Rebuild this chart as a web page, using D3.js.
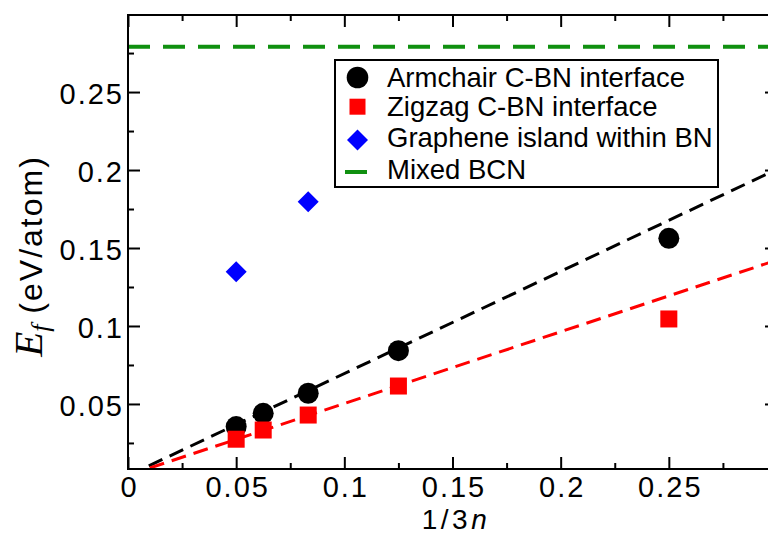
<!doctype html>
<html>
<head>
<meta charset="utf-8">
<style>
  body { margin: 0; background: #fff; }
  svg { display: block; }
  text { font-family: "Liberation Sans", Arial, sans-serif; fill: #000; }
  .tick text { font-size: 29px; letter-spacing: 2px; }
  .legend text { font-size: 27.5px; }
</style>
</head>
<body>
<svg width="768" height="535"></svg>
<script src="https://d3js.org/d3.v7.min.js"></script>
<script>
// data
var xSizes = [0.05, 0.0625, 0.0833, 0.125, 0.25];
var armchair = [0.0355, 0.044, 0.0569, 0.0842, 0.1562];
var zigzag = [0.0274, 0.0333, 0.0429, 0.0615, 0.1045];
var islandX = [0.05, 0.0833];
var islandY = [0.1348, 0.1797];
var mixedBCN = 0.279;
var fitX = [0, 0.3];
var fitArmchair = [0.004, 0.2005];
var fitZigzag = [0.0043, 0.1423];
var xMajor = [0, 0.05, 0.1, 0.15, 0.2, 0.25];
var xMinor = [0.025, 0.075, 0.125, 0.175, 0.225, 0.275];
var yMajor = [0.05, 0.1, 0.15, 0.2, 0.25];
var yMinor = [0.025, 0.075, 0.125, 0.175, 0.225, 0.275];
var legendLabels = ["Armchair C-BN interface", "Zigzag C-BN interface",
  "Graphene island within BN", "Mixed BCN"];

var svg = d3.select("svg");
var pLeft = 128, pRight = 777, pTop = 15, pBottom = 469;

var x = d3.scaleLinear().domain([0, 0.3]).range([pLeft, pRight]);
var y = d3.scaleLinear().domain([0.0083, 0.2994]).range([pBottom, pTop]);
var fmt = d3.format("~g");

svg.append("defs").append("clipPath").attr("id", "plot")
  .append("rect")
  .attr("x", pLeft).attr("y", pTop)
  .attr("width", pRight - pLeft).attr("height", pBottom - pTop);

var plot = svg.append("g").attr("clip-path", "url(#plot)");

// fitted lines
var line = d3.line()
  .x(function (d) { return x(d[0]); })
  .y(function (d) { return y(d[1]); });

plot.append("path")
  .datum(d3.zip(fitX, fitArmchair))
  .attr("d", line)
  .attr("fill", "none").attr("stroke", "#000")
  .attr("stroke-width", 3).attr("stroke-dasharray", "15,8");

plot.append("path")
  .datum(d3.zip(fitX, fitZigzag))
  .attr("d", line)
  .attr("fill", "none").attr("stroke", "#f00")
  .attr("stroke-width", 3).attr("stroke-dasharray", "15,8");

plot.append("path")
  .datum([[0, mixedBCN], [0.3, mixedBCN]])
  .attr("d", line)
  .attr("fill", "none").attr("stroke", "#109010")
  .attr("stroke-width", 4).attr("stroke-dasharray", "22,13");

// markers
plot.selectAll(".arm").data(d3.zip(xSizes, armchair)).enter()
  .append("circle")
  .attr("cx", function (d) { return x(d[0]); })
  .attr("cy", function (d) { return y(d[1]); })
  .attr("r", 10.5).attr("fill", "#000");

plot.selectAll(".zig").data(d3.zip(xSizes, zigzag)).enter()
  .append("rect")
  .attr("x", function (d) { return x(d[0]) - 8.5; })
  .attr("y", function (d) { return y(d[1]) - 8.5; })
  .attr("width", 17).attr("height", 17).attr("fill", "#f00");

var diamond = "M0,-10.5L10.5,0L0,10.5L-10.5,0Z";
plot.selectAll(".isl").data(d3.zip(islandX, islandY)).enter()
  .append("path")
  .attr("d", diamond)
  .attr("transform", function (d) { return "translate(" + x(d[0]) + "," + y(d[1]) + ")"; })
  .attr("fill", "#00f");

// axes, ticks inward on all four sides
function axis(gen, vals, size, padding, pos) {
  var g = svg.append("g").attr("transform", pos)
    .call(gen.tickValues(vals).tickSizeInner(-size).tickSizeOuter(0)
      .tickPadding(padding || 0)
      .tickFormat(padding ? fmt : ""));
  g.select(".domain").remove();
  g.attr("font-size", null).attr("font-family", null);
  g.selectAll("line").attr("stroke", "#000").attr("stroke-width", 2);
  return g;
}

var gx = axis(d3.axisBottom(x), xMajor, 12, 7, "translate(0," + pBottom + ")");
axis(d3.axisBottom(x), xMinor, 6, 0, "translate(0," + pBottom + ")");
axis(d3.axisTop(x), xMajor, 12, 0, "translate(0," + pTop + ")");
axis(d3.axisTop(x), xMinor, 6, 0, "translate(0," + pTop + ")");
var gy = axis(d3.axisLeft(y), yMajor, 12, 10, "translate(" + pLeft + ",0)");
axis(d3.axisLeft(y), yMinor, 6, 0, "translate(" + pLeft + ",0)");
axis(d3.axisRight(y), yMajor, 12, 0, "translate(" + pRight + ",0)");
axis(d3.axisRight(y), yMinor, 6, 0, "translate(" + pRight + ",0)");

gx.selectAll("text").attr("dx", "1px");
gy.selectAll("text").attr("x", -4).attr("dy", "0.4em");

svg.append("rect")
  .attr("x", pLeft).attr("y", pTop)
  .attr("width", pRight - pLeft).attr("height", pBottom - pTop)
  .attr("fill", "none").attr("stroke", "#000").attr("stroke-width", 2);

// axis titles
var xt = svg.append("text")
  .attr("x", 456).attr("y", 529)
  .attr("text-anchor", "middle")
  .attr("font-size", 28).attr("letter-spacing", "3.5px");
xt.append("tspan").text("1/3");
xt.append("tspan").attr("font-style", "italic").text("n");

var yt = svg.append("text")
  .attr("transform", "translate(42,256) rotate(-90)")
  .attr("text-anchor", "middle")
  .attr("font-size", 32);
yt.append("tspan")
  .attr("font-family", "'Liberation Serif', 'Times New Roman', serif")
  .attr("font-style", "italic").attr("font-size", 41).text("E");
yt.append("tspan")
  .attr("font-family", "'Liberation Serif', 'Times New Roman', serif")
  .attr("font-style", "italic").attr("font-size", 26).attr("dy", 7).text("f");
yt.append("tspan").attr("dy", -7).attr("letter-spacing", "2px").text(" (eV/atom)");

// legend
var lg = svg.append("g").attr("class", "legend");
lg.append("rect")
  .attr("x", 335).attr("y", 60).attr("width", 383).attr("height", 127)
  .attr("fill", "#fff").attr("stroke", "#000").attr("stroke-width", 2);

var baselines = [87, 115.5, 147, 179];
lg.selectAll("text").data(legendLabels).enter()
  .append("text")
  .attr("x", 387)
  .attr("y", function (d, i) { return baselines[i]; })
  .text(function (d) { return d; });

lg.append("circle").attr("cx", 357.5).attr("cy", 77.5).attr("r", 10.8).attr("fill", "#000");
lg.append("rect").attr("x", 349.5).attr("y", 98.7).attr("width", 16).attr("height", 16).attr("fill", "#f00");
lg.append("path").attr("d", diamond).attr("transform", "translate(357.5,140)").attr("fill", "#00f");
lg.append("line").attr("x1", 345).attr("x2", 367).attr("y1", 172).attr("y2", 172)
  .attr("stroke", "#109010").attr("stroke-width", 4);
</script>
</body>
</html>
